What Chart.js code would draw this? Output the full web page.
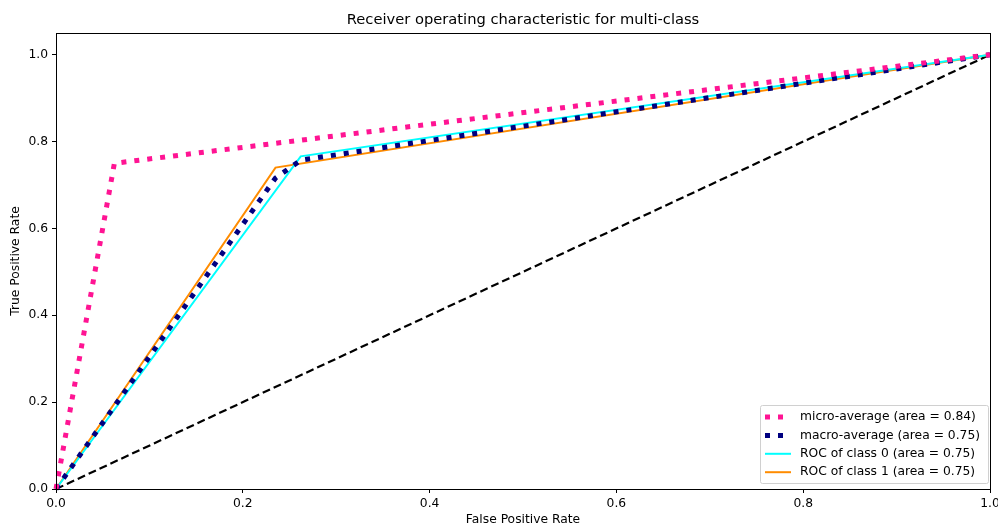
<!DOCTYPE html>
<html>
<head>
<meta charset="utf-8">
<script src="https://cdn.jsdelivr.net/npm/chart.js@4.4.0/dist/chart.umd.min.js"></script>
<style>
  html, body { margin: 0; padding: 0; background: #fff; }
  #wrap { width: 998px; height: 527px; position: relative; }
</style>
</head>
<body>
<div id="wrap"><canvas id="rocChart" width="998" height="527"></canvas></div>
<script>
// ROC curve data
const fprMicro = [0, 0.0625, 1];
const tprMicro = [0, 0.75, 1];
const fprMacro = [0, 0.235, 0.262, 1];
const tprMacro = [0, 0.716, 0.757, 1];
const fprClass0 = [0, 0.262, 1];
const tprClass0 = [0, 0.766, 1];
const fprClass1 = [0, 0.235, 1];
const tprClass1 = [0, 0.74, 1];
const chanceX = [0, 1];
const chanceY = [0, 1];

const seriesLabels = [
    'micro-average (area = 0.84)',
    'macro-average (area = 0.75)',
    'ROC of class 0 (area = 0.75)',
    'ROC of class 1 (area = 0.75)'
];
const xTickValues = [0, 0.2, 0.4, 0.6, 0.8, 1.0];
const yTickValues = [0, 0.2, 0.4, 0.6, 0.8, 1.0];
const chartTitle = 'Receiver operating characteristic for multi-class';

const FONT = "'DejaVu Sans', sans-serif";
const TXT = 12.3;

function toPoints(xs, ys) {
    return xs.map((x, i) => ({ x: x, y: ys[i] }));
}

// draws the title, the top/right spines and the legend box inside the plot
const framePlugin = {
    id: 'frame',
    afterDatasetsDraw(chart) {
        const ctx = chart.ctx;
        const a = chart.chartArea;
        ctx.save();
        ctx.strokeStyle = '#000';
        ctx.lineWidth = 1;
        ctx.strokeRect(a.left + 0.5, a.top + 0.5, a.right - a.left, a.bottom - a.top);

        ctx.fillStyle = '#000';
        ctx.font = '14.7px ' + FONT;
        ctx.textAlign = 'center';
        ctx.textBaseline = 'middle';
        ctx.fillText(chartTitle, (a.left + a.right) / 2, 20);

        // legend, lower right
        const boxX = 760, boxY = 405, boxW = 228, boxH = 78;
        ctx.fillStyle = 'rgba(255,255,255,0.8)';
        ctx.strokeStyle = '#d0d0d0';
        ctx.lineWidth = 1;
        ctx.beginPath();
        ctx.roundRect(boxX + 0.5, boxY + 0.5, boxW, boxH, 2);
        ctx.fill();
        ctx.stroke();

        ctx.font = TXT + 'px ' + FONT;
        ctx.textAlign = 'left';
        const items = chart.data.datasets.filter(ds => ds.inLegend);
        items.forEach((ds, i) => {
            const y = boxY + 12 + i * 18.4;
            ctx.strokeStyle = ds.borderColor;
            ctx.lineWidth = ds.borderWidth;
            ctx.setLineDash(ds.borderDash || []);
            ctx.lineCap = 'butt';
            ctx.beginPath();
            ctx.moveTo(boxX + 5, y);
            ctx.lineTo(boxX + 31, y);
            ctx.stroke();
            ctx.setLineDash([]);
            ctx.fillStyle = '#000';
            ctx.fillText(ds.label, boxX + 40, y);
        });
        ctx.restore();
    }
};

const ctx = document.getElementById('rocChart').getContext('2d');
const rocChart = new Chart(ctx, {
    type: 'scatter',
    data: {
        datasets: [
            {
                label: seriesLabels[0],
                data: toPoints(fprMicro, tprMicro),
                borderColor: '#ff1493',
                borderWidth: 5,
                borderDash: [5, 8],
                inLegend: true
            },
            {
                label: seriesLabels[1],
                data: toPoints(fprMacro, tprMacro),
                borderColor: '#000080',
                borderWidth: 5,
                borderDash: [5, 8],
                inLegend: true
            },
            {
                label: seriesLabels[2],
                data: toPoints(fprClass0, tprClass0),
                borderColor: '#00ffff',
                borderWidth: 2,
                inLegend: true
            },
            {
                label: seriesLabels[3],
                data: toPoints(fprClass1, tprClass1),
                borderColor: '#ff8c00',
                borderWidth: 2,
                inLegend: true
            },
            {
                label: 'chance',
                data: toPoints(chanceX, chanceY),
                borderColor: '#000',
                borderWidth: 2.2,
                borderDash: [8, 4],
                inLegend: false
            }
        ].map(ds => Object.assign(ds, {
            showLine: true,
            fill: false,
            tension: 0,
            pointRadius: 0,
            pointHoverRadius: 0,
            clip: false
        }))
    },
    options: {
        responsive: false,
        animation: false,
        events: [],
        layout: { padding: { left: 0, right: 8, top: 33, bottom: 0 } },
        scales: {
            x: {
                type: 'linear',
                min: 0,
                max: 1,
                afterBuildTicks: scale => { scale.ticks = xTickValues.map(v => ({ value: v })); },
                afterFit: scale => {
                    scale.height = 38;
                    scale.paddingLeft = 0;
                    scale.paddingRight = 0;
                },
                grid: { drawOnChartArea: false, drawTicks: true, tickLength: 4, color: '#000' },
                border: { display: true, color: '#000', width: 1 },
                ticks: {
                    color: '#000',
                    font: { family: FONT, size: TXT },
                    padding: 3,
                    maxRotation: 0,
                    callback: v => v.toFixed(1)
                },
                title: {
                    display: true,
                    text: 'False Positive Rate',
                    color: '#000',
                    font: { family: FONT, size: TXT },
                    padding: { top: 1, bottom: 0 }
                }
            },
            y: {
                type: 'linear',
                min: 0,
                max: 1.05,
                afterBuildTicks: scale => { scale.ticks = yTickValues.map(v => ({ value: v })); },
                afterFit: scale => { scale.width = 56; },
                grid: { drawOnChartArea: false, drawTicks: true, tickLength: 4, color: '#000' },
                border: { display: true, color: '#000', width: 1 },
                ticks: {
                    color: '#000',
                    font: { family: FONT, size: TXT },
                    padding: 4,
                    callback: v => v.toFixed(1)
                },
                title: {
                    display: true,
                    text: 'True Positive Rate',
                    color: '#000',
                    font: { family: FONT, size: TXT },
                    padding: { top: 8, bottom: 4 }
                }
            }
        },
        plugins: {
            legend: { display: false },
            tooltip: { enabled: false },
            title: { display: false }
        }
    },
    plugins: [framePlugin]
});
</script>
</body>
</html>
